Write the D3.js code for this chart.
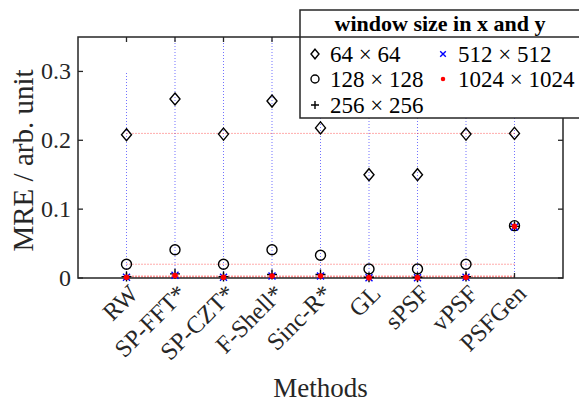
<!DOCTYPE html>
<html>
<head>
<meta charset="utf-8">
<script src="https://cdn.jsdelivr.net/npm/d3@7/dist/d3.min.js"></script>
<style>
  html, body { margin: 0; padding: 0; background: #fff; }
  svg { display: block; font-family: "Liberation Serif", "DejaVu Serif", serif; }
</style>
</head>
<body>
<svg id="chart" width="579" height="403"></svg>
<script>
// Methods compared (x axis categories)
const methods = ["RW", "SP-FFT*", "SP-CZT*", "F-Shell*", "Sinc-R*", "GL", "sPSF", "vPSF", "PSFGen"];

// Mean relative error per method, one array per window size
const mre64   = [0.208, 0.260, 0.209, 0.257, 0.218, 0.150, 0.150, 0.209, 0.210];
const mre128  = [0.020, 0.041, 0.020, 0.041, 0.033, 0.013, 0.013, 0.020, 0.076];
const mre256  = [0.002, 0.006, 0.002, 0.005, 0.005, 0.001, 0.001, 0.002, 0.075];
const mre512  = [0.001, 0.004, 0.001, 0.003, 0.003, 0.0005, 0.0005, 0.001, 0.074];
const mre1024 = [0.001, 0.0035, 0.001, 0.003, 0.003, 0.0005, 0.0005, 0.001, 0.075];

// Reference levels taken from the RW results
const refLevels = [0.21, 0.02, 0.003, 0.002, 0.001];
// Upper end of the vertical guide line per method
const guideTop = [0.30, 0.35, 0.35, 0.35, 0.35, 0.35, 0.35, 0.35, 0.35];

const yTicks = [0, 0.1, 0.2, 0.3];
const yTickLabels = ["0", "0.1", "0.2", "0.3"];
const legendTitle = "window size in x and y";
const legendLabels = ["64 \u00d7 64", "128 \u00d7 128", "256 \u00d7 256", "512 \u00d7 512", "1024 \u00d7 1024"];

const svg = d3.select("#chart");
const m = { left: 78, right: 563, top: 37, bottom: 278 };
const axisColor = "#262626";

const x = d3.scaleLinear().domain([0, methods.length + 1]).range([m.left, m.right]);
const y = d3.scaleLinear().domain([0, 0.35]).range([m.bottom, m.top]);
const xi = i => x(i + 1);

const plot = svg.append("g");

// vertical dotted guides (blue)
plot.selectAll("line.vguide").data(methods).join("line")
  .attr("class", "vguide")
  .attr("x1", (d, i) => xi(i)).attr("x2", (d, i) => xi(i))
  .attr("y1", y(0)).attr("y2", (d, i) => y(guideTop[i]))
  .attr("stroke", "#4f4fff").attr("stroke-opacity", 0.8)
  .attr("stroke-width", 1).attr("stroke-dasharray", "1,2");

// horizontal dotted reference lines (red)
plot.selectAll("line.href").data(refLevels).join("line")
  .attr("class", "href")
  .attr("x1", xi(0)).attr("x2", xi(methods.length - 1))
  .attr("y1", d => y(d)).attr("y2", d => y(d))
  .attr("stroke", "#ff3030").attr("stroke-opacity", 0.8)
  .attr("stroke-width", 1).attr("stroke-dasharray", "1,2");

// Axes box
const axes = svg.append("g");
axes.append("rect")
  .attr("x", m.left).attr("y", m.top)
  .attr("width", m.right - m.left).attr("height", m.bottom - m.top)
  .attr("fill", "none").attr("stroke", axisColor).attr("stroke-width", 1.5);

const tickLen = 5;
// y ticks left and right
axes.selectAll("line.ytl").data(yTicks).join("line")
  .attr("class", "ytl")
  .attr("x1", m.left).attr("x2", m.left + tickLen)
  .attr("y1", d => y(d)).attr("y2", d => y(d))
  .attr("stroke", axisColor).attr("stroke-width", 1.3);
axes.selectAll("line.ytr").data(yTicks).join("line")
  .attr("class", "ytr")
  .attr("x1", m.right).attr("x2", m.right - tickLen)
  .attr("y1", d => y(d)).attr("y2", d => y(d))
  .attr("stroke", axisColor).attr("stroke-width", 1.3);
// x ticks bottom and top
axes.selectAll("line.xtb").data(methods).join("line")
  .attr("class", "xtb")
  .attr("x1", (d, i) => xi(i)).attr("x2", (d, i) => xi(i))
  .attr("y1", m.bottom).attr("y2", m.bottom - tickLen)
  .attr("stroke", axisColor).attr("stroke-width", 1.3);
axes.selectAll("line.xtt").data(methods).join("line")
  .attr("class", "xtt")
  .attr("x1", (d, i) => xi(i)).attr("x2", (d, i) => xi(i))
  .attr("y1", m.top).attr("y2", m.top + tickLen)
  .attr("stroke", axisColor).attr("stroke-width", 1.3);

// y tick labels
axes.selectAll("text.ytick").data(yTicks).join("text")
  .attr("class", "ytick")
  .attr("x", m.left - 7).attr("y", d => y(d))
  .attr("dy", "0.33em")
  .attr("text-anchor", "end")
  .attr("font-size", 24).attr("fill", axisColor)
  .text((d, i) => yTickLabels[i]);

// x tick labels, rotated
axes.selectAll("text.xtick").data(methods).join("text")
  .attr("class", "xtick")
  .attr("transform", (d, i) => `translate(${xi(i) + 7},${m.bottom + 11}) rotate(-45)`)
  .attr("text-anchor", "end")
  .attr("dy", "0.35em")
  .attr("font-size", 24.5).attr("fill", axisColor)
  .text(d => d);

// axis titles
svg.append("text")
  .attr("transform", `translate(${33},${(m.top + m.bottom) / 2 + 3}) rotate(-90)`)
  .attr("text-anchor", "middle")
  .attr("font-size", 29).attr("fill", axisColor)
  .text("MRE / arb. unit");
svg.append("text")
  .attr("x", (m.left + m.right) / 2).attr("y", 397)
  .attr("text-anchor", "middle")
  .attr("font-size", 27).attr("fill", axisColor)
  .text("Methods");

// Marker drawing helpers
const sym = {
  diamond: (g, cx, cy, s) => g.append("path")
    .attr("d", `M${cx},${cy - 6 * s}L${cx + 5 * s},${cy}L${cx},${cy + 6 * s}L${cx - 5 * s},${cy}Z`)
    .attr("fill", "none").attr("stroke", "#000").attr("stroke-width", 1.4),
  circle: (g, cx, cy, s) => g.append("circle")
    .attr("cx", cx).attr("cy", cy).attr("r", 5 * s)
    .attr("fill", "none").attr("stroke", "#000").attr("stroke-width", 1.4),
  plus: (g, cx, cy, s) => g.append("path")
    .attr("d", `M${cx - 5 * s},${cy}H${cx + 5 * s}M${cx},${cy - 5 * s}V${cy + 5 * s}`)
    .attr("stroke", "#000").attr("stroke-width", 1.4),
  cross: (g, cx, cy, s) => g.append("path")
    .attr("d", `M${cx - 3.5 * s},${cy - 3.5 * s}L${cx + 3.5 * s},${cy + 3.5 * s}M${cx - 3.5 * s},${cy + 3.5 * s}L${cx + 3.5 * s},${cy - 3.5 * s}`)
    .attr("stroke", "#0000ff").attr("stroke-width", 1.4),
  dot: (g, cx, cy, s) => g.append("circle")
    .attr("cx", cx).attr("cy", cy).attr("r", 2.8 * s)
    .attr("fill", "#ff0000")
};

const series = [
  { values: mre64, shape: "diamond" },
  { values: mre128, shape: "circle" },
  { values: mre256, shape: "plus" },
  { values: mre512, shape: "cross" },
  { values: mre1024, shape: "dot" }
];

const markers = svg.append("g");
series.forEach(s => {
  s.values.forEach((v, i) => sym[s.shape](markers, xi(i), y(v), 1));
});

// Legend
const lg = svg.append("g");
const L = { x: 300, y: 10, w: 290, h: 108, titleH: 27 };
lg.append("rect")
  .attr("x", L.x).attr("y", L.y).attr("width", L.w).attr("height", L.h)
  .attr("fill", "#fff").attr("stroke", axisColor).attr("stroke-width", 1.5);
lg.append("line")
  .attr("x1", L.x).attr("x2", L.x + L.w)
  .attr("y1", L.y + L.titleH).attr("y2", L.y + L.titleH)
  .attr("stroke", axisColor).attr("stroke-width", 1.5);
lg.append("text")
  .attr("x", 440).attr("y", 31)
  .attr("text-anchor", "middle")
  .attr("font-size", 22).attr("font-weight", "bold").attr("fill", "#000")
  .text(legendTitle);

const legPos = [
  { mx: 315, ty: 54 }, { mx: 315, ty: 79 }, { mx: 315, ty: 105 },
  { mx: 443, ty: 54 }, { mx: 443, ty: 79 }
];
series.forEach((s, k) => {
  const p = legPos[k];
  sym[s.shape](lg, p.mx, p.ty, 0.8);
  lg.append("text")
    .attr("x", p.mx + 15).attr("y", p.ty)
    .attr("dy", "0.35em")
    .attr("font-size", 23).attr("fill", "#000")
    .text(legendLabels[k]);
});
</script>
</body>
</html>
